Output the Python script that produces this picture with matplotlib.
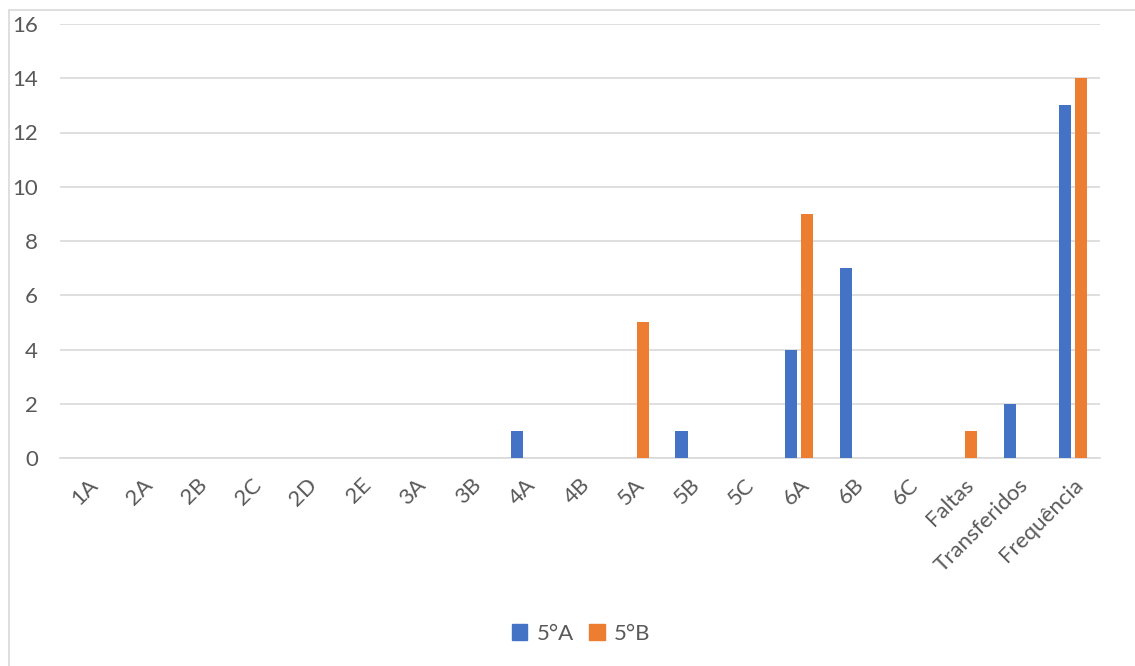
import matplotlib
matplotlib.use("Agg")
import matplotlib.pyplot as plt
import numpy as np
from matplotlib.patches import Rectangle, Patch

categories = ["1A", "2A", "2B", "2C", "2D", "2E", "3A", "3B", "4A", "4B", "5A",
              "5B", "5C", "6A", "6B", "6C", "Faltas", "Transferidos", "Frequência"]
series_names = ["5°A", "5°B"]
values_5a = [0, 0, 0, 0, 0, 0, 0, 0, 1, 0, 0, 1, 0, 4, 7, 0, 0, 2, 13]
values_5b = [0, 0, 0, 0, 0, 0, 0, 0, 0, 0, 5, 0, 0, 9, 0, 0, 1, 0, 14]
yticks = [0, 2, 4, 6, 8, 10, 12, 14, 16]

plt.rcParams['font.family'] = ['Lato', 'DejaVu Sans']

W, H = 1135, 666
fig = plt.figure(figsize=(W / 100, H / 100), dpi=100)
ax = fig.add_axes([60 / W, 1 - 458 / H, (1100 - 60) / W, (458 - 24) / H])

x = np.arange(len(categories))
bw = 0.22
off = 0.146
c_a = "#4472C4"
c_b = "#ED7D31"
ax.bar(x - off, values_5a, width=bw, color=c_a, zorder=3)
ax.bar(x + off, values_5b, width=bw, color=c_b, zorder=3)

ax.set_xlim(-0.5, len(categories) - 0.5)
ax.set_ylim(0, 16)
ax.set_yticks(yticks)
ax.yaxis.grid(True, color="#d9d9d9", linewidth=1.2, zorder=0)
ax.set_axisbelow(True)
for s in ["top", "right", "left"]:
    ax.spines[s].set_visible(False)
ax.spines["bottom"].set_color("#d9d9d9")
ax.spines["bottom"].set_linewidth(1.2)
ax.tick_params(axis="both", length=0, labelsize=16, colors="#595959")
ax.tick_params(axis="y", pad=16)
ax.set_xticks(x)
ax.set_xticklabels(categories, rotation=45, ha="right", va="top", rotation_mode="anchor")
ax.tick_params(axis="x", pad=12)

handles = [Patch(color=c_a), Patch(color=c_b)]
fig.legend(handles, series_names, loc="center", bbox_to_anchor=(581 / W, 1 - 634 / H),
           ncol=2, frameon=False, fontsize=16, labelcolor="#595959",
           handlelength=0.7, handleheight=0.7, handletextpad=0.4, columnspacing=0.7)

fig.patches.append(Rectangle((9 / W, -0.1), 1.2, 1.1 - 10 / H, transform=fig.transFigure,
                             fill=False, edgecolor="#d9d9d9", linewidth=1.2))

fig.savefig("out.png", dpi=100)
